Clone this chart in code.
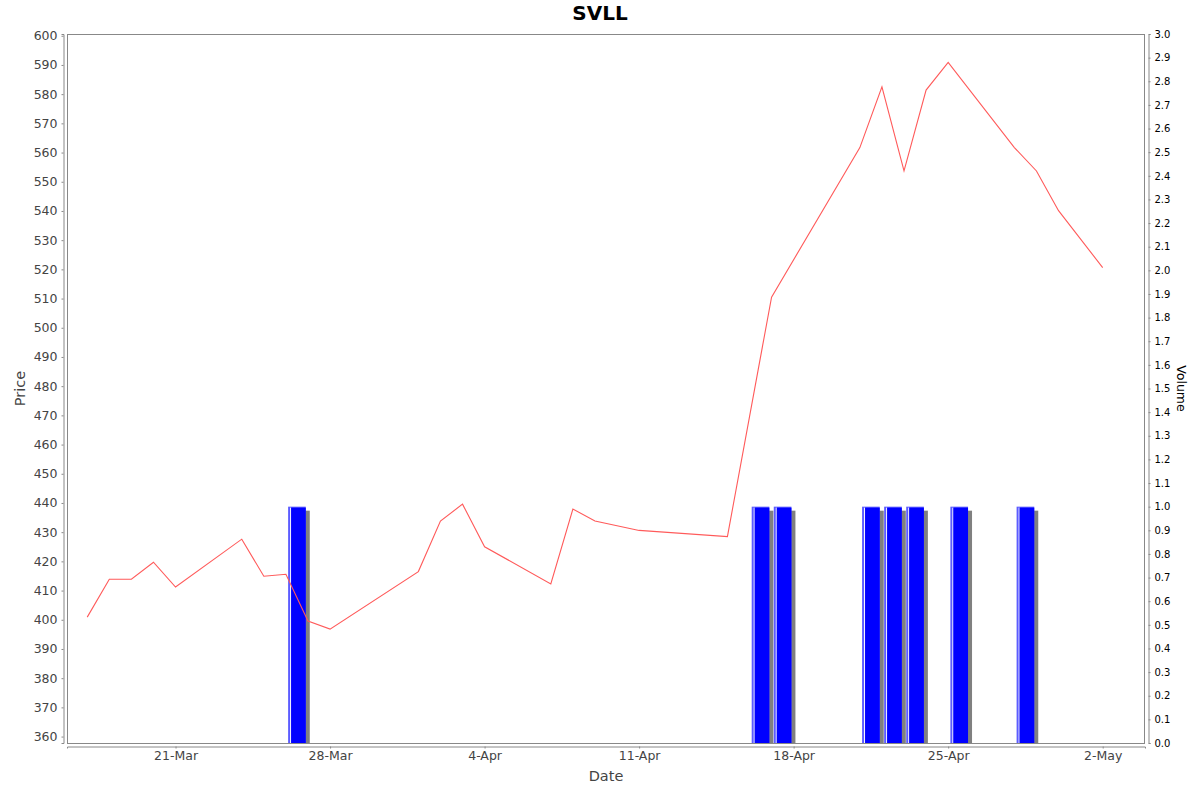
<!DOCTYPE html>
<html>
<head>
<meta charset="utf-8">
<script src="https://cdn.jsdelivr.net/npm/d3@7"></script>
<style>
  body { margin: 0; background: #fff; }
  text { font-family: 'DejaVu Sans', sans-serif; }
</style>
</head>
<body>
<div id="chart"></div>
<script>
var priceDates = [
  '2014-03-17', '2014-03-18', '2014-03-19', '2014-03-20', '2014-03-21',
  '2014-03-24', '2014-03-25', '2014-03-26', '2014-03-27', '2014-03-28',
  '2014-04-01', '2014-04-02', '2014-04-03', '2014-04-04', '2014-04-07',
  '2014-04-08', '2014-04-09', '2014-04-11', '2014-04-15', '2014-04-16',
  '2014-04-17', '2014-04-21', '2014-04-22', '2014-04-23', '2014-04-24',
  '2014-04-25', '2014-04-28', '2014-04-29', '2014-04-30', '2014-05-02'
]
var prices = [
  400.9, 413.9, 413.9, 419.7, 411.2,
  427.6, 414.9, 415.6, 399.6, 396.8,
  416.5, 433.8, 439.6, 425.0, 412.3,
  437.9, 433.8, 430.6, 428.5, 469.5,
  510.5, 561.7, 582.5, 553.7, 581.4,
  590.9, 561.7, 553.7, 540.1, 520.6
]
var volumeDates = [
  '2014-03-26', '2014-04-16', '2014-04-17', '2014-04-21',
  '2014-04-22', '2014-04-23', '2014-04-25', '2014-04-28'
]
var volumes = [1, 1, 1, 1, 1, 1, 1, 1]
var priceTicks = d3.range(360, 601, 10)
var volumeTicks = d3.range(0, 31).map(d => d / 10)

var width = 1200
var height = 792
var margin = { top: 34, left: 67, right: 55, bottom: 49 }
var plotW = width - margin.left - margin.right
var plotH = height - margin.top - margin.bottom

var parse = d3.timeParse('%Y-%m-%d')

var svg = d3
  .select('#chart')
  .append('svg')
  .attr('width', width)
  .attr('height', height)

var xScale = d3
  .scaleTime()
  .domain([new Date(2014, 2, 16, 2), new Date(2014, 4, 3, 22)])
  .range([margin.left, margin.left + plotW])

var yScale = d3
  .scaleLinear()
  .domain([357.8, 600.6])
  .range([margin.top + plotH, margin.top])

var volScale = d3
  .scaleLinear()
  .domain([0, 3])
  .range([margin.top + plotH, margin.top])

var priceData = priceDates.map((d, i) => ({ date: parse(d), value: prices[i] }))
var volumeData = volumeDates.map((d, i) => ({ date: parse(d), value: volumes[i] }))

svg
  .append('defs')
  .append('clipPath')
  .attr('id', 'plot-clip')
  .append('rect')
  .attr('x', margin.left)
  .attr('y', margin.top)
  .attr('width', plotW)
  .attr('height', plotH)

var plot = svg.append('g').attr('clip-path', 'url(#plot-clip)')

// volume bars: one day period each, shrunk by a margin
var bars = plot
  .selectAll('.bar')
  .data(volumeData)
  .enter()
  .append('g')
  .attr('class', 'bar')

function barX0(d) {
  var x0 = xScale(d.date)
  var x1 = xScale(d3.timeDay.offset(d.date, 1))
  return x0 + (x1 - x0) * 0.1
}
function barX1(d) {
  var x0 = xScale(d.date)
  var x1 = xScale(d3.timeDay.offset(d.date, 1))
  return x1 - (x1 - x0) * 0.1
}

bars
  .append('rect')
  .attr('x', d => barX0(d) + 4)
  .attr('y', d => volScale(d.value) + 4)
  .attr('width', d => barX1(d) - barX0(d))
  .attr('height', d => volScale(0) - volScale(d.value))
  .attr('fill', '#808080')

bars
  .append('rect')
  .attr('x', d => barX0(d))
  .attr('y', d => volScale(d.value))
  .attr('width', d => barX1(d) - barX0(d))
  .attr('height', d => volScale(0) - volScale(d.value))
  .attr('fill', '#5c5cff')

bars
  .append('rect')
  .attr('x', d => barX0(d) + 2)
  .attr('y', d => volScale(d.value) + 1)
  .attr('width', 1)
  .attr('height', d => volScale(0) - volScale(d.value))
  .attr('fill', '#ffffff')

bars
  .append('rect')
  .attr('x', d => barX0(d) + 3)
  .attr('y', d => volScale(d.value) + 1)
  .attr('width', d => barX1(d) - barX0(d) - 3)
  .attr('height', d => volScale(0) - volScale(d.value))
  .attr('fill', '#0000ff')

var line = d3
  .line()
  .x(d => xScale(d.date))
  .y(d => yScale(d.value))

plot
  .append('path')
  .datum(priceData)
  .attr('d', line)
  .attr('fill', 'none')
  .attr('stroke', '#ff5a5a')
  .attr('stroke-width', 1.1)

svg
  .append('rect')
  .attr('x', margin.left + 0.5)
  .attr('y', margin.top + 0.5)
  .attr('width', plotW - 1)
  .attr('height', plotH)
  .attr('fill', 'none')
  .attr('stroke', '#888')

// axes
var leftAxis = svg
  .append('g')
  .attr('transform', 'translate(' + (margin.left - 3.5) + ',0)')
  .call(
    d3
      .axisLeft(yScale)
      .tickValues(priceTicks)
      .tickSize(2)
      .tickPadding(4)
  )

var rightAxis = svg
  .append('g')
  .attr('transform', 'translate(' + (margin.left + plotW + 3.5) + ',0)')
  .call(
    d3
      .axisRight(volScale)
      .tickValues(volumeTicks)
      .tickFormat(d3.format('.1f'))
      .tickSize(2)
      .tickPadding(4)
  )

var bottomAxis = svg
  .append('g')
  .attr('transform', 'translate(0,' + (margin.top + plotH + 3.5) + ')')
  .call(
    d3
      .axisBottom(xScale)
      .ticks(d3.timeFriday.every(1))
      .tickFormat(d3.timeFormat('%-d-%b'))
      .tickSize(2)
      .tickPadding(3)
  )

leftAxis.select('.domain').attr('stroke', '#888')
bottomAxis.select('.domain').attr('stroke', '#888')
rightAxis.select('.domain').attr('stroke', '#888')
svg.selectAll('.tick line').attr('stroke', '#888')

leftAxis
  .selectAll('text')
  .attr('font-size', 12.5)
  .attr('fill', '#444')
  .style('font-family', 'DejaVu Sans')

bottomAxis
  .selectAll('text')
  .attr('font-size', 12.5)
  .attr('fill', '#444')
  .style('font-family', 'DejaVu Sans')

rightAxis
  .selectAll('text')
  .attr('font-size', 10)
  .attr('fill', '#000')
  .style('font-family', 'DejaVu Sans')

// labels
svg
  .append('text')
  .attr('x', width / 2)
  .attr('y', 20)
  .attr('text-anchor', 'middle')
  .attr('font-size', 20)
  .attr('font-weight', 700)
  .text('SVLL')

svg
  .append('text')
  .attr('transform', 'translate(25,' + (margin.top + plotH / 2) + ') rotate(-90)')
  .attr('text-anchor', 'middle')
  .attr('font-size', 14.5)
  .attr('fill', '#444')
  .text('Price')

svg
  .append('text')
  .attr('x', margin.left + plotW / 2)
  .attr('y', 781)
  .attr('text-anchor', 'middle')
  .attr('font-size', 14.5)
  .attr('fill', '#444')
  .text('Date')

svg
  .append('text')
  .attr('transform', 'translate(1177,' + (margin.top + plotH / 2) + ') rotate(90)')
  .attr('text-anchor', 'middle')
  .attr('font-size', 12.5)
  .attr('fill', '#000')
  .text('Volume')
</script>
</body>
</html>
